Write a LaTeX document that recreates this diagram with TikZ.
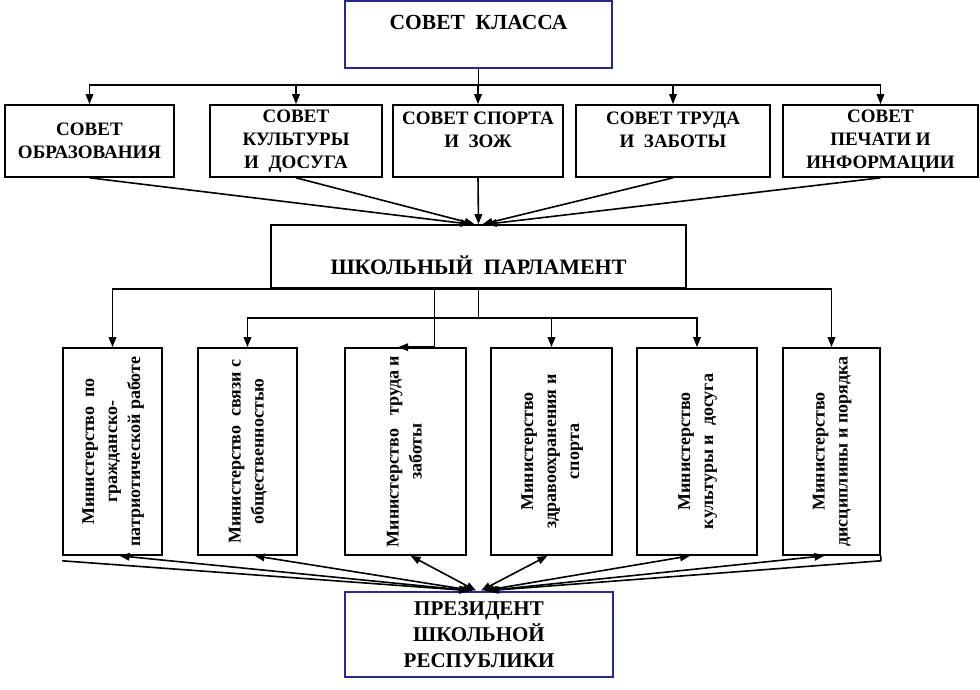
\documentclass[tikz,border=0pt]{standalone}
\usepackage{fontspec}
\setmainfont{Liberation Serif}
\usetikzlibrary{arrows.meta,calc}
\definecolor{navy}{RGB}{40,40,140}
\newcommand{\mintext}[1]{\rotatebox{90}{\fontsize{18}{23}\selectfont
  \begin{tabular}{@{}c@{}}#1\end{tabular}}}

\begin{document}
\begin{tikzpicture}[x=1pt, y=-1pt, >={Triangle[length=10pt,width=7.5pt]},
  every node/.style = {align=center, font=\bfseries},
  box/.style = {draw, line width=1.6pt, rectangle, inner sep=0pt},
  headbox/.style = {draw=navy, line width=2.8pt, rectangle, inner sep=0pt},
  council/.style = {box, minimum height=72pt,
    font=\bfseries\fontsize{19}{23}\selectfont},
  ministry/.style = {box, minimum height=207pt},
  link/.style = {line width=1.6pt}]
  \useasboundingbox (0,0) rectangle (980,690);

  % top
  \node[headbox, minimum width=267pt, minimum height=67pt] (klass) at (478.5,34.5) {};
  \node[font=\bfseries\fontsize{21.5}{25}\selectfont] (klasstitle) at (478.5,22) {СОВЕТ\ \ КЛАССА};

  % councils
  \node[council, minimum width=169pt] (s1) at (89.5,141) {СОВЕТ\\ОБРАЗОВАНИЯ};
  \node[council, minimum width=172pt] (s2) at (296,141) {СОВЕТ\\КУЛЬТУРЫ\\И\ \ ДОСУГА};
  \node[council, minimum width=170pt] (s3) at (478,141) {СОВЕТ СПОРТА\\И\ \ ЗОЖ\\~};
  \node[council, minimum width=194pt] (s4) at (673,141) {СОВЕТ ТРУДА\\И\ \ ЗАБОТЫ\\~};
  \node[council, minimum width=195pt] (s5) at (880.5,141) {СОВЕТ\\ПЕЧАТИ И\\ИНФОРМАЦИИ};

  % parliament
  \node[box, minimum width=415pt, minimum height=63pt] (parl) at (478.5,256.5) {};
  \node[font=\bfseries\fontsize{22}{25}\selectfont] (parltitle) at (478.5,265) {ШКОЛЬНЫЙ\ \ ПАРЛАМЕНТ};

  % ministries
  \node[ministry, minimum width=99pt] (m1) at (112.5,451.5)
    {\mintext{Министерство\ \ по\\гражданско-\\патриотической работе}};
  \node[ministry, minimum width=99pt] (m2) at (247.5,451.5)
    {\mintext{Министерство\ \ связи с\\общественностью}};
  \node[ministry, minimum width=121pt] (m3) at (405.5,451.5)
    {\mintext{Министерство\ \ \ труда и\\заботы}};
  \node[ministry, minimum width=121pt] (m4) at (551.5,451.5)
    {\mintext{Министерство\\здравоохранения и\\спорта}};
  \node[ministry, minimum width=120pt] (m5) at (697,451.5)
    {\mintext{Министерство\\культуры и\ \ досуга}};
  \node[ministry, minimum width=97pt] (m6) at (831.5,451.5)
    {\mintext{Министерство\\дисциплины и порядка}};

  % president
  \node[headbox, minimum width=268pt, minimum height=85pt,
    font=\bfseries\fontsize{21}{26}\selectfont] (pres) at (479,634.5)
    {ПРЕЗИДЕНТ\\ШКОЛЬНОЙ\\РЕСПУБЛИКИ};

  % links
  \coordinate (kbus) at (478.5,85);
  \draw[link] (klass.south) -- (kbus);
  \foreach \s in {s1,s2,s3,s4,s5}
    \draw[link,->] (kbus) -| (\s.north);
  \foreach \s/\dx in {s1/-8,s2/-4,s3/0,s4/4,s5/8}
    \draw[link,->] (\s.south) -- ($(parl.north)+(\dx,0)$);

  \draw[link,->] (parl.south) -| (m1.north);
  \draw[link,->] (parl.south) -| (m6.north);
  \draw[link,->] ($(parl.south)+(-44,0)$) |- ($(m3.north)+(-7.5,0)$);
  \coordinate (mbus) at (478.5,318);
  \draw[link] (parl.south) -- (mbus);
  \foreach \m in {m2,m4,m5}
    \draw[link,->] (mbus) -| (\m.north);

  \foreach \m/\dx/\px in {m1/7/-9,m2/7/-6,m3/5/-3,m4/-4/2,m5/-7/5,m6/-7/8}
    \draw[link,<->] ($(\m.south)+(\dx,0)$) -- ($(pres.north)+(\px,0)$);
  \draw[link,->] ($(m1.south west)+(0,5)$) -- ($(pres.north)+(-10,0)$);
  \draw[link,->] (m6.south east) -- ++(0,5) -- ($(pres.north)+(10,0)$);
\end{tikzpicture}
\end{document}
